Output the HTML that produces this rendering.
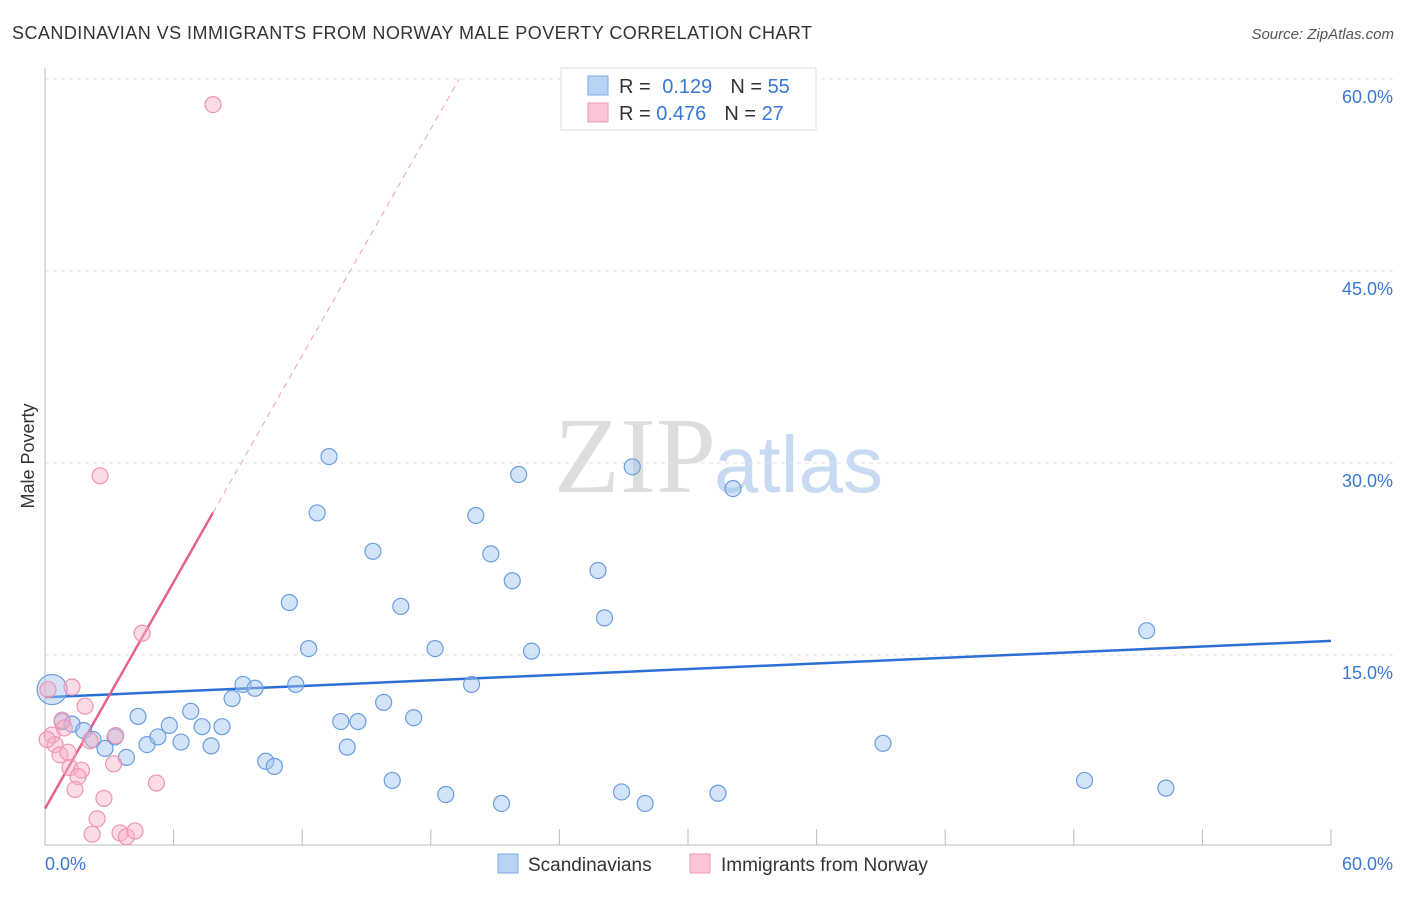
<!DOCTYPE html>
<html><head><meta charset="utf-8"><style>
body{margin:0;background:#fff;font-family:"Liberation Sans",sans-serif;}
</style></head><body>
<svg id="chart" width="1406" height="892" xmlns="http://www.w3.org/2000/svg">
<text x="12" y="39" font-size="18" fill="#333" textLength="800">SCANDINAVIAN VS IMMIGRANTS FROM NORWAY MALE POVERTY CORRELATION CHART</text>
<text x="1394" y="39" font-size="15" fill="#555" text-anchor="end" font-style="italic">Source: ZipAtlas.com</text>
<text x="34" y="456" font-size="18" fill="#333" text-anchor="middle" transform="rotate(-90 34 456)">Male Poverty</text>
<text x="716" y="492" font-size="108" fill="#ddd" text-anchor="end" font-family="Liberation Serif">ZIP</text>
<text x="714" y="492" font-size="80" fill="#c8daf2">atlas</text>
<g id="grid"></g><g id="axes"></g><g id="lines"></g><g id="pts"></g>
<g>
<rect x="561" y="68" width="255" height="62" fill="#fff" stroke="#ddd"/>
<rect x="588" y="76" width="20" height="19" fill="#b8d3f5" stroke="#7fa9e3"/>
<rect x="588" y="103" width="20" height="19" fill="#fac6d6" stroke="#f09ab5"/>
<text x="619" y="93" font-size="20" fill="#333">R = <tspan fill="#3a78d4" dx="6">0.129</tspan><tspan fill="#333" dx="18">N = </tspan><tspan fill="#3a78d4">55</tspan></text>
<text x="619" y="120" font-size="20" fill="#333">R = <tspan fill="#3a78d4">0.476</tspan><tspan fill="#333" dx="18">N = </tspan><tspan fill="#3a78d4">27</tspan></text>
</g>
<g>
<rect x="498" y="854" width="20" height="19" fill="#b8d3f5" stroke="#7fa9e3"/>
<text x="528" y="871" font-size="19" fill="#333">Scandinavians</text>
<rect x="690" y="854" width="20" height="19" fill="#fac6d6" stroke="#f09ab5"/>
<text x="721" y="871" font-size="19" fill="#333">Immigrants from Norway</text>
</g>
</svg>
<script>
const blueX=[0.33,0.8,1.26,1.8,2.24,2.8,3.27,3.8,4.34,4.76,5.27,5.8,6.35,6.8,7.33,7.75,8.26,8.73,9.24,9.8,10.3,10.7,11.4,11.7,12.3,12.7,13.25,13.8,14.1,14.6,15.3,15.8,16.2,16.6,17.2,18.2,18.7,19.9,20.1,20.8,21.3,21.8,22.1,22.7,25.8,26.1,26.9,27.4,28.0,31.4,32.1,39.1,48.5,51.4,52.3];
const blueY=[12.3,9.8,9.6,9.1,8.4,7.7,8.6,7.0,10.2,8.0,8.6,9.5,8.2,10.6,9.4,7.9,9.4,11.6,12.7,12.4,6.7,6.3,19.1,12.7,15.5,26.1,30.5,9.8,7.8,9.8,23.1,11.3,5.2,18.8,10.1,15.5,4.1,12.7,25.9,22.9,3.4,20.8,29.1,15.3,21.6,17.9,4.3,29.7,3.4,4.2,28.0,8.1,5.2,16.9,4.6];
const pinkX=[7.84,2.57,4.53,1.26,0.14,1.87,0.8,0.33,0.47,0.7,1.07,1.17,1.7,1.54,1.4,3.3,3.2,5.2,2.75,2.43,2.2,3.5,3.8,4.2,2.1,0.9,0.1];
const pinkY=[58.0,29.0,16.7,12.5,12.3,11.0,9.9,8.75,8.0,7.2,7.4,6.2,6.0,5.5,4.5,8.7,6.5,5.0,3.8,2.2,1.0,1.1,0.8,1.25,8.3,9.3,8.4];
const blueTrend=[11.7,16.1];
const pinkTrend=[3.0,2.95];
const yTicks=[15,30,45,60];
const xTickLabels=["0.0%","60.0%"];
const sx=v=>45+v/60*1286, sy=v=>847-v/15*192;
const NS="http://www.w3.org/2000/svg";
function mk(p,t,a){const e=document.createElementNS(NS,t);for(const k in a)e.setAttribute(k,a[k]);document.getElementById(p).appendChild(e);return e;}
yTicks.forEach(t=>{
 const l=mk('grid','line',{x1:45,x2:1394,y1:sy(t),y2:sy(t),stroke:'#e2e2e2','stroke-dasharray':'4,4'});
 
 
 const tx=mk('grid','text',{x:1393,y:sy(t)+24,'font-size':18,fill:'#3a78d4','text-anchor':'end'});tx.textContent=t.toFixed(1)+'%';
 
 
});
const ax=mk('axes','line',{x1:45,x2:1331,y1:845,y2:845,stroke:'#bbb'});


const ay=mk('axes','line',{x1:45,x2:45,y1:68,y2:845,stroke:'#bbb'});


for(let i=0;i<=10;i++){const t=mk('axes','line',{x1:sx(i*6),x2:sx(i*6),y1:829,y2:845,stroke:'#bbb'});
 
 }
const xl0=mk('axes','text',{x:45,y:870,'font-size':18,fill:'#3a78d4'});xl0.textContent=xTickLabels[0];


const xl1=mk('axes','text',{x:1393,y:870,'font-size':18,fill:'#3a78d4','text-anchor':'end'});xl1.textContent=xTickLabels[1];


const bl=mk('lines','line',{x1:sx(0),y1:sy(blueTrend[0]),x2:sx(60),y2:sy(blueTrend[1]),stroke:'#2a6fd6','stroke-width':2.5});


const pe=(60-pinkTrend[0])/pinkTrend[1];
const pd=mk('lines','line',{x1:sx(7.84),y1:sy(pinkTrend[0]+pinkTrend[1]*7.84),x2:sx(pe),y2:sy(60),stroke:'#eea0b8','stroke-width':1,'stroke-dasharray':'6,5'});


const pl=mk('lines','line',{x1:sx(0),y1:sy(pinkTrend[0]),x2:sx(7.84),y2:sy(pinkTrend[0]+pinkTrend[1]*7.84),stroke:'#e8608f','stroke-width':2.5});


blueX.forEach((x,i)=>{const c=mk('pts','circle',{cx:sx(x),cy:sy(blueY[i]),r:i==0?15:8,fill:'rgba(160,196,240,0.45)',stroke:'#6a9de0','stroke-width':1.2});
 
 });
pinkX.forEach((x,i)=>{const c=mk('pts','circle',{cx:sx(x),cy:sy(pinkY[i]),r:8,fill:'rgba(247,175,198,0.45)',stroke:'#ee95b2','stroke-width':1.2});
 
 });
</script>
</body></html>
